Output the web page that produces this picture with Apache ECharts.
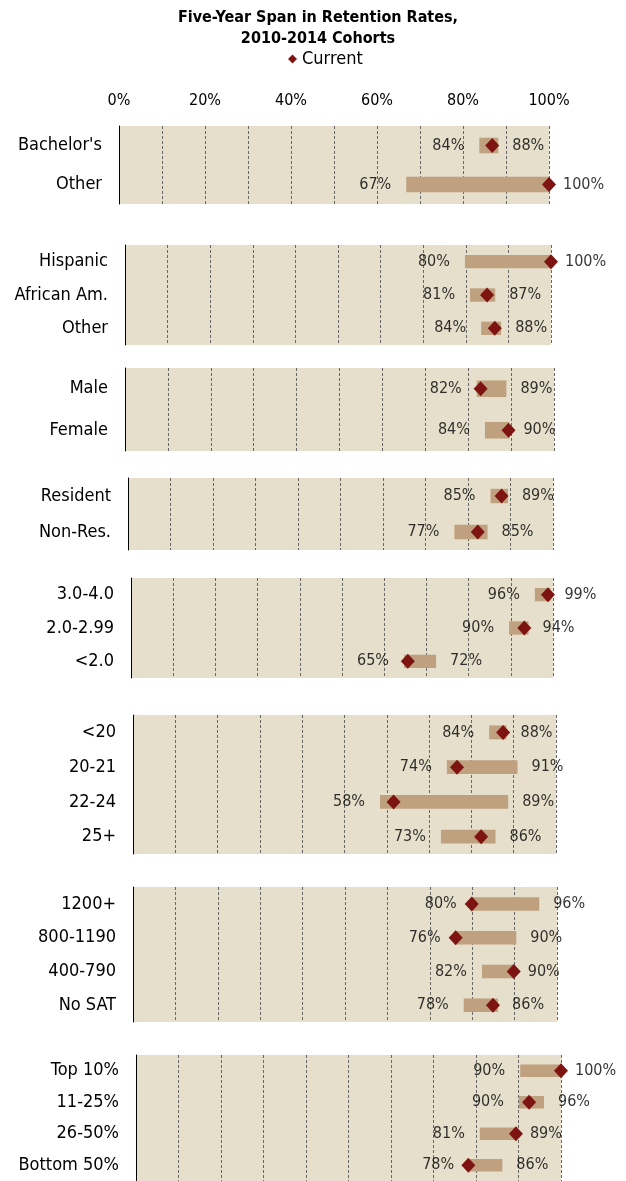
<!DOCTYPE html>
<html>
<head>
<meta charset="utf-8">
<script src="https://cdn.jsdelivr.net/npm/echarts@6/dist/echarts.min.js"></script>
<style>
html,body{margin:0;padding:0;background:#fff;}
#chart{width:626px;height:1181px;}
</style>
</head>
<body>
<div id="chart"></div>
<script>
// ---- data ----
const xTicks = [0, 20, 40, 60, 80, 100];

const degreeCats = ["Bachelor's", "Other"];
const degreeMin = [83.8, 66.8];
const degreeMax = [88.2, 100];
const degreeCur = [86.8, 100];

const ethnicCats = ["Hispanic", "African Am.", "Other"];
const ethnicMin = [79.8, 81.0, 83.6];
const ethnicMax = [100, 86.9, 88.3];
const ethnicCur = [100, 85.0, 86.8];

const genderCats = ["Male", "Female"];
const genderMin = [82.0, 83.9];
const genderMax = [88.9, 89.6];
const genderCur = [82.9, 89.4];

const residencyCats = ["Resident", "Non-Res."];
const residencyMin = [85.3, 76.8];
const residencyMax = [89.4, 84.6];
const residencyCur = [87.9, 82.3];

const gpaCats = ["3.0-4.0", "2.0-2.99", "<2.0"];
const gpaMin = [95.7, 89.6, 64.7];
const gpaMax = [99.4, 94.2, 72.3];
const gpaCur = [98.8, 93.2, 65.6];

const ageCats = ["<20", "20-21", "22-24", "25+"];
const ageMin = [84.2, 74.2, 58.4, 72.8];
const ageMax = [88.3, 90.9, 88.7, 85.7];
const ageCur = [87.5, 76.6, 61.6, 82.3];

const satCats = ["1200+", "800-1190", "400-790", "No SAT"];
const satMin = [79.9, 76.1, 82.3, 78.0];
const satMax = [95.8, 90.4, 89.8, 86.1];
const satCur = [79.9, 76.1, 89.8, 84.9];

const rankCats = ["Top 10%", "11-25%", "26-50%", "Bottom 50%"];
const rankMin = [90.4, 90.1, 80.9, 78.4];
const rankMax = [100, 96.0, 89.4, 86.2];
const rankCur = [100, 92.5, 89.4, 78.2];

// ---- layout (px) ----
const panels = [
  {cats: degreeCats, mn: degreeMin, mx: degreeMax, cur: degreeCur, left: 119, width: 430, top: 126, height: 78},
  {cats: ethnicCats, mn: ethnicMin, mx: ethnicMax, cur: ethnicCur, left: 125, width: 426, top: 245, height: 100},
  {cats: genderCats, mn: genderMin, mx: genderMax, cur: genderCur, left: 125, width: 429, top: 368, height: 83},
  {cats: residencyCats, mn: residencyMin, mx: residencyMax, cur: residencyCur, left: 128, width: 425, top: 478, height: 72},
  {cats: gpaCats, mn: gpaMin, mx: gpaMax, cur: gpaCur, left: 131, width: 422, top: 578, height: 100},
  {cats: ageCats, mn: ageMin, mx: ageMax, cur: ageCur, left: 133, width: 423, top: 715, height: 139},
  {cats: satCats, mn: satMin, mx: satMax, cur: satCur, left: 133, width: 424, top: 887, height: 135},
  {cats: rankCats, mn: rankMin, mx: rankMax, cur: rankCur, left: 136, width: 425, top: 1055, height: 130}
];

const FONT = "'DejaVu Sans Condensed', 'DejaVu Sans', sans-serif";
const BG = '#E6DFCB';
const BAR = '#BFA07F';
const DIAMOND = '#7E1411';
const pct = v => Math.round(v) + '%';

const grids = [], xAxes = [], yAxes = [], series = [];
panels.forEach((p, gi) => {
  grids.push({
    left: p.left, width: p.width, top: p.top, height: p.height,
    show: true, backgroundColor: BG, borderWidth: 0, containLabel: false
  });
  xAxes.push({
    gridIndex: gi, type: 'value', min: 0, max: 100, interval: 10,
    position: 'top',
    axisLine: {show: false}, axisTick: {show: false},
    axisLabel: {
      show: gi === 0, margin: 17, fontSize: 16, color: '#000', fontFamily: FONT,
      formatter: v => (xTicks.indexOf(v) >= 0 ? v + '%' : '')
    },
    splitLine: {show: true, lineStyle: {color: '#666', width: 1, type: [3, 2]}}
  });
  yAxes.push({
    gridIndex: gi, type: 'category', data: p.cats, inverse: true,
    axisLine: {show: true, lineStyle: {color: '#000', width: 1}},
    axisTick: {show: false},
    axisLabel: {margin: 17, fontSize: 18, color: '#000', fontFamily: FONT},
    splitLine: {show: false}
  });
  series.push({
    type: 'bar', xAxisIndex: gi, yAxisIndex: gi, stack: 'span' + gi,
    data: p.mn, barWidth: '40%', itemStyle: {color: 'rgba(0,0,0,0)'},
    silent: true, z: 1
  });
  series.push({
    type: 'bar', xAxisIndex: gi, yAxisIndex: gi, stack: 'span' + gi,
    data: p.mx.map((v, i) => +(v - p.mn[i]).toFixed(2)), barWidth: '40%',
    itemStyle: {color: BAR}, z: 2
  });
  series.push({
    type: 'scatter', xAxisIndex: gi, yAxisIndex: gi, symbolSize: 0,
    data: p.mn.map((v, i) => [v, i]), z: 3,
    label: {show: true, position: 'left', distance: 15, fontSize: 16, color: '#000', fontFamily: FONT,
      formatter: d => pct(d.value[0])}
  });
  series.push({
    type: 'scatter', xAxisIndex: gi, yAxisIndex: gi, symbolSize: 0,
    data: p.mx.map((v, i) => [v, i]), z: 3,
    label: {show: true, position: 'right', distance: 14, fontSize: 16, color: '#000', fontFamily: FONT,
      formatter: d => pct(d.value[0])}
  });
  series.push({
    name: 'Current', type: 'scatter', xAxisIndex: gi, yAxisIndex: gi,
    symbol: 'diamond', symbolSize: [14, 15],
    data: p.cur.map((v, i) => [v, i]), itemStyle: {color: DIAMOND, opacity: 1}, z: 5
  });
});

const chart = echarts.init(document.getElementById('chart'), null, {renderer: 'canvas'});
chart.setOption({
  animation: false,
  textStyle: {fontFamily: FONT},
  title: {
    text: 'Five-Year Span in Retention Rates,\n2010-2014 Cohorts',
    left: 313, top: 2,
    textAlign: 'center',
    textStyle: {fontSize: 16, fontWeight: 'bold', color: '#000', lineHeight: 21, fontFamily: FONT}
  },
  legend: {
    data: ['Current'], top: 45, left: 283,
    icon: 'diamond', itemWidth: 9, itemHeight: 9, itemStyle: {opacity: 1},
    textStyle: {fontSize: 18, color: '#000', fontFamily: FONT}
  },
  grid: grids,
  xAxis: xAxes,
  yAxis: yAxes,
  series: series
});
</script>
</body>
</html>
